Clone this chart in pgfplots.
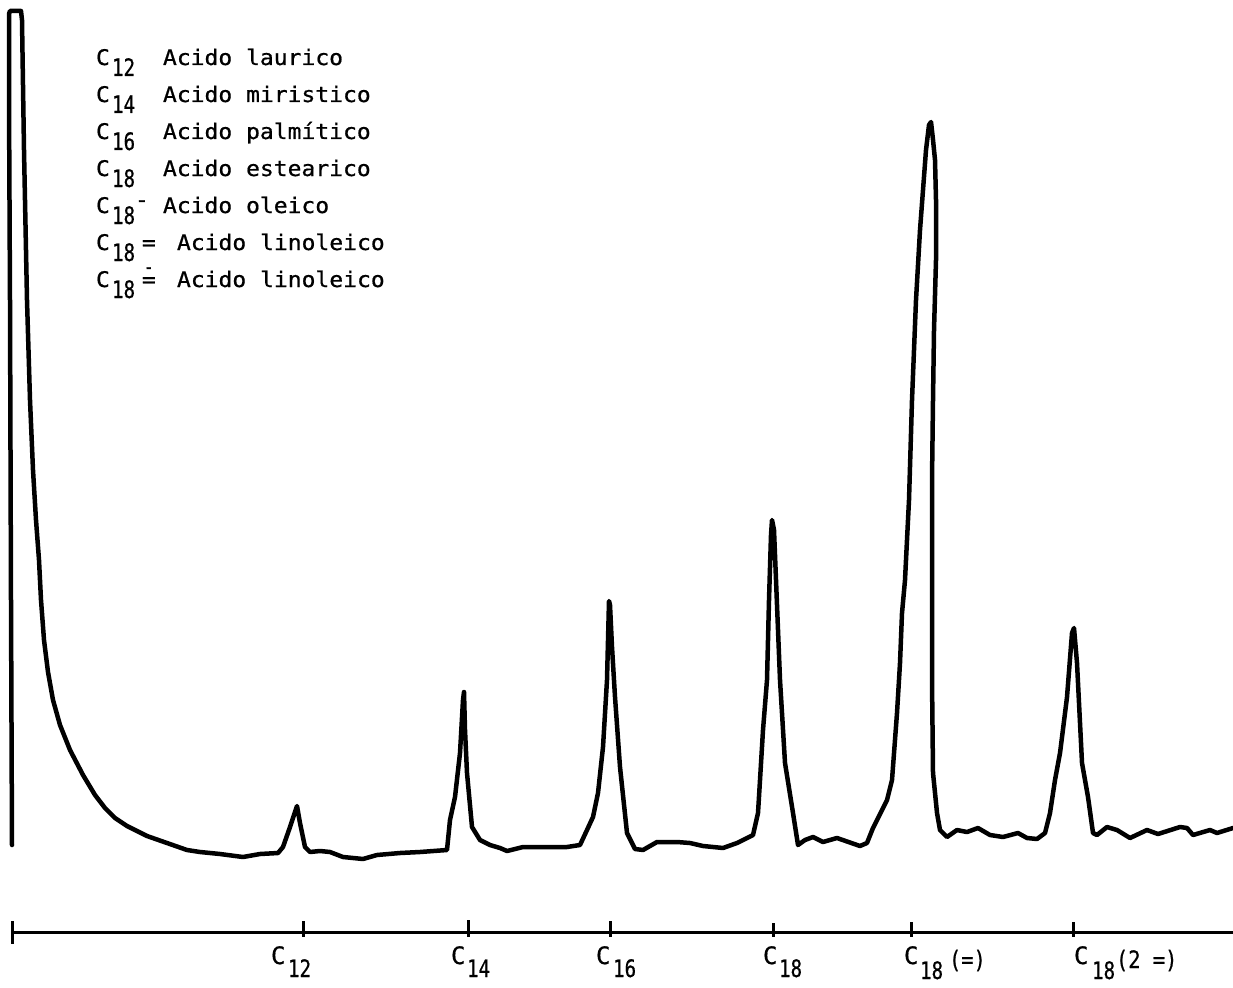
\documentclass[border=0pt]{standalone}
\usepackage{pgfplots}
\pgfplotsset{compat=1.18}
\usepackage{fontspec}
\usepackage{graphicx}
\setmainfont{DejaVu Sans Mono}
\newfontfamily\tw[FakeBold=0.7]{DejaVu Sans Mono}
\newcommand{\LT}[1]{\scalebox{1.07}[1]{\fontsize{21.5}{21.5}\tw #1}}
\newcommand{\LS}[1]{\scalebox{0.8}[1]{\fontsize{24}{24}\tw #1}}
\newcommand{\AT}[1]{{\fontsize{24}{24}\tw #1}}
\newcommand{\AS}[1]{\scalebox{0.8}[1]{\fontsize{24}{24}\tw #1}}
\tikzset{t/.style={inner sep=0pt, outer sep=0pt, anchor=base west, text=black}}
\begin{document}
\begin{tikzpicture}
\begin{axis}[scale only axis, width=1233pt, height=987pt,
  xmin=0, xmax=1233, ymin=0, ymax=987, y dir=reverse,
  axis lines=none, clip=false]
% chromatogram trace (x, y in picture units, y downward)
\addplot[black, line width=4.5pt, line join=round, line cap=round] coordinates {
(12,845) (11,600) (10,300) (9,100) (9,14) (10,11) (21,11) (22,20) (24,150) (27,300) (30,400) (33,470) (36,520) (39,560) (41,600) (44,640) (48,672) (53,700) (60,725) (70,750) (83,775) (95,795) (105,808) (115,818) (127,826) (147,836) (167,843) (187,850) (200,852) (220,854) (243,857) (260,854) (278,853) (283,847) (290,827) (297,806) (300,823) (305,847) (310,852) (320,851) (330,852) (343,857) (363,859) (377,855) (400,853) (420,852) (447,850) (450,820) (455,797) (460,753) (463,700) (464,692) (465,730) (467,773) (472,827) (480,840) (490,845) (500,848) (507,851) (523,847) (543,847) (567,847) (580,845) (587,830) (593,817) (598,793) (603,747) (607,680) (609,601) (610,605) (612,647) (615,697) (620,767) (627,833) (635,849) (643,850) (657,842) (677,842) (690,843) (703,846) (723,848) (737,843) (753,835) (758,813) (760,780) (763,730) (767,680) (769,600) (771,535) (772,520) (774,530) (776,580) (780,680) (785,763) (793,813) (798,845) (805,840) (813,837) (823,842) (837,838) (860,846) (867,843) (873,828) (887,800) (892,780) (897,713) (900,663) (902,613) (905,580) (909,500) (912,400) (916,300) (920,230) (923,190) (926,150) (929,125) (931,122) (933,140) (935,160) (936,200) (936,260) (934,330) (933,400) (932,480) (932,580) (932,680) (933,773) (937,813) (940,830) (947,837) (957,830) (967,832) (978,828) (990,835) (1003,837) (1018,833) (1027,838) (1037,839) (1045,833) (1050,813) (1055,780) (1060,753) (1067,697) (1072,633) (1074,628) (1077,663) (1082,763) (1088,797) (1093,833) (1097,835) (1107,827) (1117,830) (1130,838) (1147,830) (1158,834) (1180,827) (1187,828) (1193,835) (1210,830) (1217,833) (1233,828)
};
% time line
\addplot[black, line width=3pt] coordinates {(13,932) (1233,932)};
\addplot[black, line width=3pt] coordinates {(12,921) (12,944)};
\addplot[black, line width=3pt] coordinates {(303,921) (303,937)};
\addplot[black, line width=3pt] coordinates {(468,920) (468,937)};
\addplot[black, line width=3pt] coordinates {(610,921) (610,937)};
\addplot[black, line width=3pt] coordinates {(773,923) (773,937)};
\addplot[black, line width=3pt] coordinates {(911,922) (911,937)};
\addplot[black, line width=3pt] coordinates {(1073,922) (1073,937)};
% axis labels
\node[t] at (axis cs:271,964) {\AT{C}}; \node[t] at (axis cs:288,977) {\AS{12}};
\node[t] at (axis cs:451,964) {\AT{C}}; \node[t] at (axis cs:467,977) {\AS{14}};
\node[t] at (axis cs:596,964) {\AT{C}}; \node[t] at (axis cs:613,977) {\AS{16}};
\node[t] at (axis cs:763,964) {\AT{C}}; \node[t] at (axis cs:779,977) {\AS{18}};
\node[t] at (axis cs:904,964) {\AT{C}}; \node[t] at (axis cs:920,979) {\AS{18}};
\node[t] at (axis cs:949,968) {\scalebox{0.85}[1]{\AT{(=)}}};
\node[t] at (axis cs:1074,964) {\AT{C}}; \node[t] at (axis cs:1092,979) {\AS{18}};
\node[t] at (axis cs:1116,968) {\scalebox{0.85}[1]{\AT{(2 =)}}};
% legend block
\node[t] at (axis cs:96,65) {\LT{C}};  \node[t] at (axis cs:112,76) {\LS{12}};  \node[t] at (axis cs:163,65) {\LT{Acido laurico}};
\node[t] at (axis cs:96,102) {\LT{C}}; \node[t] at (axis cs:112,113) {\LS{14}}; \node[t] at (axis cs:163,102) {\LT{Acido miristico}};
\node[t] at (axis cs:96,139) {\LT{C}}; \node[t] at (axis cs:112,150) {\LS{16}}; \node[t] at (axis cs:163,139) {\LT{Acido palmítico}};
\node[t] at (axis cs:96,176) {\LT{C}}; \node[t] at (axis cs:112,187) {\LS{18}}; \node[t] at (axis cs:163,176) {\LT{Acido estearico}};
\node[t] at (axis cs:96,213) {\LT{C}}; \node[t] at (axis cs:112,224) {\LS{18}}; \node[t] at (axis cs:135,207) {\LT{-}}; \node[t] at (axis cs:163,213) {\LT{Acido oleico}};
\node[t] at (axis cs:96,250) {\LT{C}}; \node[t] at (axis cs:112,261) {\LS{18}}; \node[t] at (axis cs:142,250) {\LT{=}}; \node[t] at (axis cs:177,250) {\LT{Acido linoleico}};
\node[t] at (axis cs:96,287) {\LT{C}}; \node[t] at (axis cs:112,298) {\LS{18}}; \node[t] at (axis cs:142,287) {\LT{=}}; \node[t] at (axis cs:144,274) {\scalebox{0.7}[1]{\LT{-}}}; \node[t] at (axis cs:177,287) {\LT{Acido linoleico}};
\end{axis}
\pgfresetboundingbox
\path (0,0) rectangle (1233pt,987pt);
\end{tikzpicture}
\end{document}
